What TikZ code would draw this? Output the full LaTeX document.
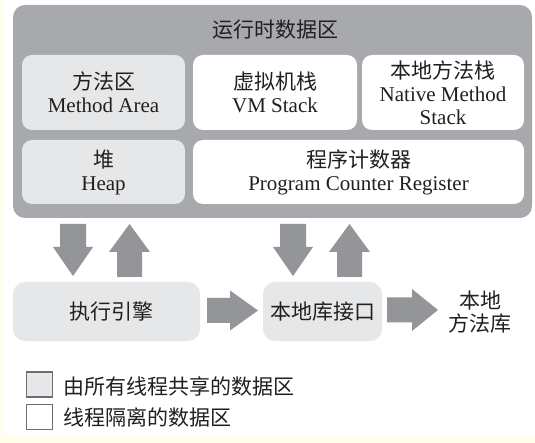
\documentclass[tikz,border=0pt]{standalone}
\usepackage{fontspec}
\setmainfont{Liberation Serif}
\newfontfamily\cjk{Noto Sans CJK SC}
\definecolor{cream}{HTML}{FFFDEB}
\definecolor{outergray}{HTML}{A7A9AC}
\definecolor{lightgray}{HTML}{E6E7E8}
\definecolor{arrowgray}{HTML}{939598}
\definecolor{inkc}{HTML}{231F20}
\definecolor{legendline}{HTML}{6D6E71}
\begin{document}
\begin{tikzpicture}[x=1pt,y=-1pt,
  every node/.style={text=inkc, font=\fontsize{21}{23}\selectfont, align=center, inner sep=0pt},
  outerbox/.style={fill=outergray, rounded corners=12pt, minimum width=519pt, minimum height=213pt},
  sharedbox/.style={fill=lightgray, rounded corners=10pt},
  privbox/.style={fill=white, rounded corners=10pt},
  blk/.style={fill=arrowgray},
  legendbox/.style={draw=legendline, line width=1.2pt, minimum width=26pt, minimum height=25pt}
]
\useasboundingbox (0,0) rectangle (535,443);
\fill[cream] (0,0) rectangle (535,443);
\fill[white] (4,0) rectangle (535,435);

% runtime data area
\node[outerbox] (rt) at (272.5,111.5) {};
\node (title) at (275,30) {\cjk 运行时数据区};
\node[sharedbox, minimum width=163pt, minimum height=75pt] (ma) at (103.5,92.5) {{\cjk 方法区}\\Method Area};
\node[privbox, minimum width=164pt, minimum height=75pt] (vm) at (275,92.5) {{\cjk 虚拟机栈}\\VM Stack};
\node[privbox, minimum width=162pt, minimum height=75pt] (nm) at (443,92.5) {{\cjk 本地方法栈}\\Native Method\\Stack};
\node[sharedbox, minimum width=163pt, minimum height=64pt] (heap) at (103.5,172) {{\cjk 堆}\\Heap};
\node[privbox, minimum width=331pt, minimum height=64pt] (pc) at (358.5,172) {{\cjk 程序计数器}\\Program Counter Register};

% lower boxes
\node[sharedbox, rounded corners=12pt, minimum width=187pt, minimum height=59pt] (exec) at (106.5,311.5) {\hspace*{10pt}\cjk 执行引擎};
\node[sharedbox, rounded corners=12pt, minimum width=119pt, minimum height=59pt] (nif) at (322.5,311.5) {\cjk 本地库接口};
\node (nlib) at (480,312) {\cjk 本地\\\cjk 方法库};

% vertical block arrows
\coordinate (d1) at (73,224);
\coordinate (u1) at (129.5,224);
\coordinate (d2) at (293,224);
\coordinate (u2) at (349.5,224);
\foreach \c in {d1,d2}{
  \fill[blk] (\c) ++(-13,0) -- ++(26,0) -- ++(0,23) -- ++(7,0) -- ++(-20,29) -- ++(-20,-29) -- ++(7,0) -- cycle;
}
\foreach \c in {u1,u2}{
  \fill[blk] (\c) -- ++(20.5,28) -- ++(-8,0) -- ++(0,25) -- ++(-25,0) -- ++(0,-25) -- ++(-8,0) -- cycle;
}
% horizontal block arrows
\coordinate (r1) at (258,310.5);
\coordinate (r2) at (438,310);
\fill[blk] (r1) -- ++(-28,-20) -- ++(0,7.5) -- ++(-23,0) -- ++(0,25) -- ++(23,0) -- ++(0,7.5) -- cycle;
\fill[blk] (r2) -- ++(-26,-21) -- ++(0,8.5) -- ++(-25,0) -- ++(0,25) -- ++(25,0) -- ++(0,8.5) -- cycle;

% legend
\node[legendbox, fill=lightgray] (lg1) at (39.5,384.5) {};
\node[legendbox, fill=white] (lg2) at (39.5,417) {};
\node[anchor=west] (lt1) at (63,386) {\cjk 由所有线程共享的数据区};
\node[anchor=west] (lt2) at (63,417) {\cjk 线程隔离的数据区};
\end{tikzpicture}
\end{document}
